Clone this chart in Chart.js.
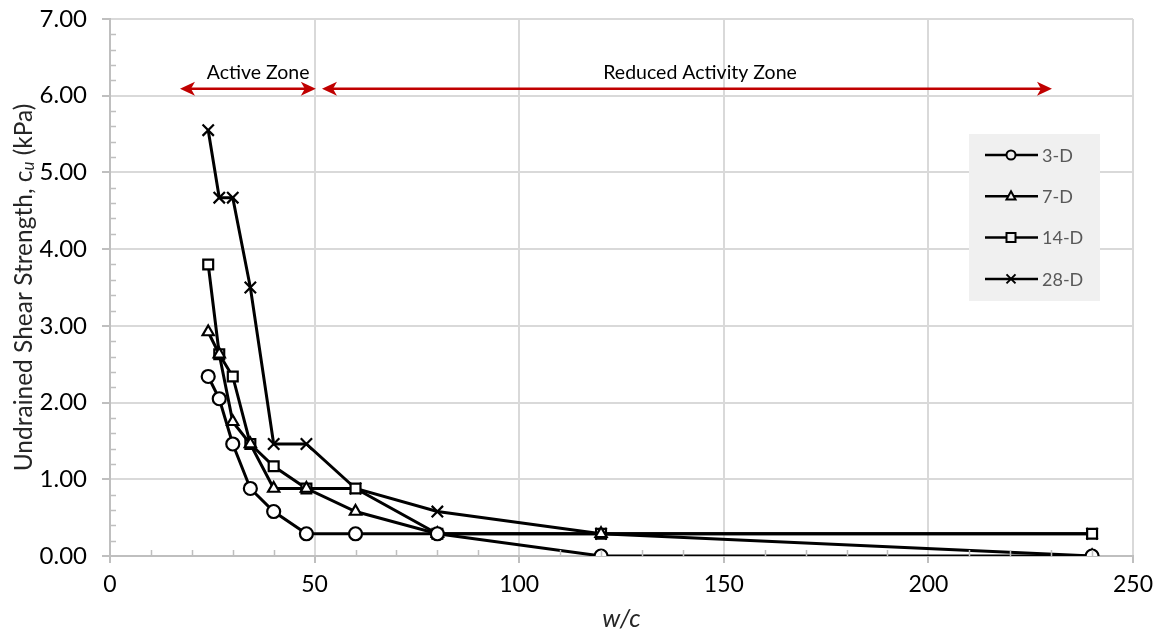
<!DOCTYPE html>
<html>
<head>
<meta charset="utf-8">
<script src="https://cdn.jsdelivr.net/npm/chart.js@4/dist/chart.umd.min.js"></script>
<style>
  html, body { margin: 0; padding: 0; background: #fff; }
  #wrap { width: 1163px; height: 634px; position: relative; }
</style>
</head>
<body>
<div id="wrap"><canvas id="chart"></canvas></div>
<script>
// w/c ratios and undrained shear strength (kPa)
const wc = [24, 26.7, 30, 34.3, 40, 48, 60, 80, 120, 240];
const cu3D = [2.34, 2.05, 1.46, 0.88, 0.58, 0.29, 0.29, 0.29, 0.00, 0.00];
const cu7D = [2.92, 2.63, 1.75, 1.46, 0.88, 0.88, 0.58, 0.29, 0.29, 0.00];
const cu14D = [3.80, 2.63, 2.34, 1.46, 1.17, 0.88, 0.88, 0.29, 0.29, 0.29];
const cu28D = [5.55, 4.67, 4.67, 3.50, 1.46, 1.46, 0.88, 0.58, 0.29, 0.29];

const seriesLabels = ["3-D", "7-D", "14-D", "28-D"];
const seriesMarkers = ["circle", "triangle", "rect", "crossRot"];

const xTicks = [0, 50, 100, 150, 200, 250];
const yTicks = [0, 1, 2, 3, 4, 5, 6, 7];

// zone annotations (w/c start, end, and label centre)
const zoneNames = ["Active Zone", "Reduced Activity Zone"];
const zoneFrom = [17.1, 51.8];
const zoneTo = [50.3, 230.2];
const zoneLabelX = [36.2, 144.2];
const zoneArrowY = 6.09;
const zoneLabelY = 6.30;

const FONT = "Lato";

function pts(ys) {
  return wc.map((x, i) => ({ x: x, y: ys[i] }));
}

const minorTicks = {
  id: "minorTicks",
  afterDraw(chart) {
    const { ctx, chartArea: a, scales } = chart;
    ctx.save();
    ctx.strokeStyle = "#bfbfbf";
    ctx.lineWidth = 1.5;
    ctx.beginPath();
    for (let v = 0.2; v < 7; v += 0.2) {
      if (Math.abs(v - Math.round(v)) < 0.01) continue;
      const y = Math.round(scales.y.getPixelForValue(v)) + 0.5;
      ctx.moveTo(a.left, y);
      ctx.lineTo(a.left + 6, y);
    }
    for (let v = 10; v < 250; v += 10) {
      if (v % 50 === 0) continue;
      const x = Math.round(scales.x.getPixelForValue(v)) + 0.5;
      ctx.moveTo(x, a.bottom);
      ctx.lineTo(x, a.bottom - 6);
    }
    ctx.stroke();
    ctx.restore();
  },
};

function arrowHead(ctx, x, y, dir) {
  // dir = -1 points left, 1 points right
  ctx.beginPath();
  ctx.moveTo(x, y);
  ctx.lineTo(x - dir * 15, y - 7);
  ctx.lineTo(x - dir * 11, y);
  ctx.lineTo(x - dir * 15, y + 7);
  ctx.closePath();
  ctx.fill();
}

const zones = {
  id: "zones",
  afterDatasetsDraw(chart) {
    const { ctx, scales } = chart;
    ctx.save();
    ctx.strokeStyle = "#c00000";
    ctx.fillStyle = "#c00000";
    ctx.lineWidth = 2.5;
    const y = scales.y.getPixelForValue(zoneArrowY);
    zoneNames.forEach((name, i) => {
      const x0 = scales.x.getPixelForValue(zoneFrom[i]);
      const x1 = scales.x.getPixelForValue(zoneTo[i]);
      ctx.beginPath();
      ctx.moveTo(x0 + 10, y);
      ctx.lineTo(x1 - 10, y);
      ctx.stroke();
      arrowHead(ctx, x0, y, -1);
      arrowHead(ctx, x1, y, 1);
    });
    ctx.fillStyle = "#000";
    ctx.font = `19.5px ${FONT}`;
    ctx.textAlign = "center";
    ctx.textBaseline = "middle";
    const ly = scales.y.getPixelForValue(zoneLabelY);
    zoneNames.forEach((name, i) => {
      ctx.fillText(name, scales.x.getPixelForValue(zoneLabelX[i]), ly);
    });
    ctx.restore();
  },
};

function drawMarker(ctx, style, x, y, r) {
  ctx.beginPath();
  if (style === "circle") {
    ctx.arc(x, y, r, 0, Math.PI * 2);
    ctx.fill(); ctx.stroke();
  } else if (style === "triangle") {
    ctx.moveTo(x, y - r * 1.1);
    ctx.lineTo(x + r, y + r * 0.7);
    ctx.lineTo(x - r, y + r * 0.7);
    ctx.closePath();
    ctx.fill(); ctx.stroke();
  } else if (style === "rect") {
    ctx.rect(x - r, y - r, r * 2, r * 2);
    ctx.fill(); ctx.stroke();
  } else {
    ctx.moveTo(x - r, y - r); ctx.lineTo(x + r, y + r);
    ctx.moveTo(x + r, y - r); ctx.lineTo(x - r, y + r);
    ctx.stroke();
  }
}

const boxLegend = {
  id: "boxLegend",
  afterDraw(chart) {
    const { ctx } = chart;
    const bx = 969, by = 134, bw = 131, bh = 167;
    ctx.save();
    ctx.fillStyle = "#f0f0f0";
    ctx.fillRect(bx, by, bw, bh);
    chart.data.datasets.forEach((ds, i) => {
      const y = by + 21 + i * 41.3;
      ctx.strokeStyle = "#000";
      ctx.lineWidth = 2.5;
      ctx.beginPath();
      ctx.moveTo(985, y);
      ctx.lineTo(1038, y);
      ctx.stroke();
      ctx.fillStyle = "#f0f0f0";
      ctx.lineWidth = 2;
      drawMarker(ctx, ds.pointStyle, 1011, y, 4.5);
      ctx.fillStyle = "#595959";
      ctx.font = `18px ${FONT}`;
      ctx.textAlign = "left";
      ctx.textBaseline = "middle";
      ctx.fillText(ds.label, 1042, y + 1);
    });
    ctx.restore();
  },
};

const yTitle = {
  id: "yTitle",
  afterDraw(chart) {
    const { ctx, chartArea: a } = chart;
    const parts = [
      { t: "Undrained Shear Strength, c", f: `24.5px ${FONT}`, dy: 0 },
      { t: "u", f: `italic 17px ${FONT}`, dy: 5 },
      { t: " (kPa)", f: `24.5px ${FONT}`, dy: 0 },
    ];
    ctx.save();
    let total = 0;
    parts.forEach((p) => { ctx.font = p.f; p.w = ctx.measureText(p.t).width; total += p.w; });
    ctx.translate(24, (a.top + a.bottom) / 2);
    ctx.rotate(-Math.PI / 2);
    ctx.fillStyle = "#262626";
    ctx.textBaseline = "middle";
    ctx.textAlign = "left";
    let x = -total / 2;
    parts.forEach((p) => { ctx.font = p.f; ctx.fillText(p.t, x, p.dy); x += p.w; });
    ctx.restore();
  },
};

const datasets = [cu3D, cu7D, cu14D, cu28D].map((ys, i) => ({
  label: seriesLabels[i],
  data: pts(ys),
  showLine: true,
  borderColor: "#000",
  borderWidth: 3,
  pointStyle: seriesMarkers[i],
  pointRadius: seriesMarkers[i] === "rect" ? 7 : seriesMarkers[i] === "crossRot" ? 8 : 6.5,
  pointBorderWidth: 2.2,
  pointBorderColor: "#000",
  pointBackgroundColor: "#fff",
  tension: 0,
}));

new Chart(document.getElementById("chart"), {
  type: "scatter",
  data: { datasets },
  plugins: [minorTicks, zones, boxLegend, yTitle],
  options: {
    responsive: true,
    maintainAspectRatio: false,
    animation: false,
    layout: { padding: { top: 19, right: 30, left: 0, bottom: 0 } },
    plugins: { legend: { display: false }, tooltip: { enabled: false } },
    scales: {
      x: {
        type: "linear",
        min: 0,
        max: 250,
        afterBuildTicks: (s) => { s.ticks = xTicks.map((v) => ({ value: v })); },
        afterFit: (s) => { s.height = 78; s.paddingLeft = 0; s.paddingRight = 0; },
        ticks: { color: "#000", font: { family: FONT, size: 23 }, padding: 8 },
        grid: { color: "#d9d9d9", lineWidth: 2, tickLength: 7, tickColor: "#bfbfbf" },
        border: { color: "#bfbfbf", width: 2 },
        title: {
          display: true,
          text: "w/c",
          color: "#262626",
          font: { family: FONT, size: 25, style: "italic" },
          padding: { top: 0, bottom: 0 },
        },
      },
      y: {
        type: "linear",
        min: 0,
        max: 7,
        afterBuildTicks: (s) => { s.ticks = yTicks.map((v) => ({ value: v })); },
        afterFit: (s) => { s.width = 110; s.paddingTop = 0; s.paddingBottom = 0; },
        ticks: {
          color: "#000",
          font: { family: FONT, size: 24 },
          padding: 15,
          callback: (v) => Number(v).toFixed(2),
        },
        grid: { color: "#d9d9d9", lineWidth: 2, tickLength: 8, tickColor: "#bfbfbf" },
        border: { color: "#bfbfbf", width: 2 },
      },
    },
  },
});
</script>
</body>
</html>
